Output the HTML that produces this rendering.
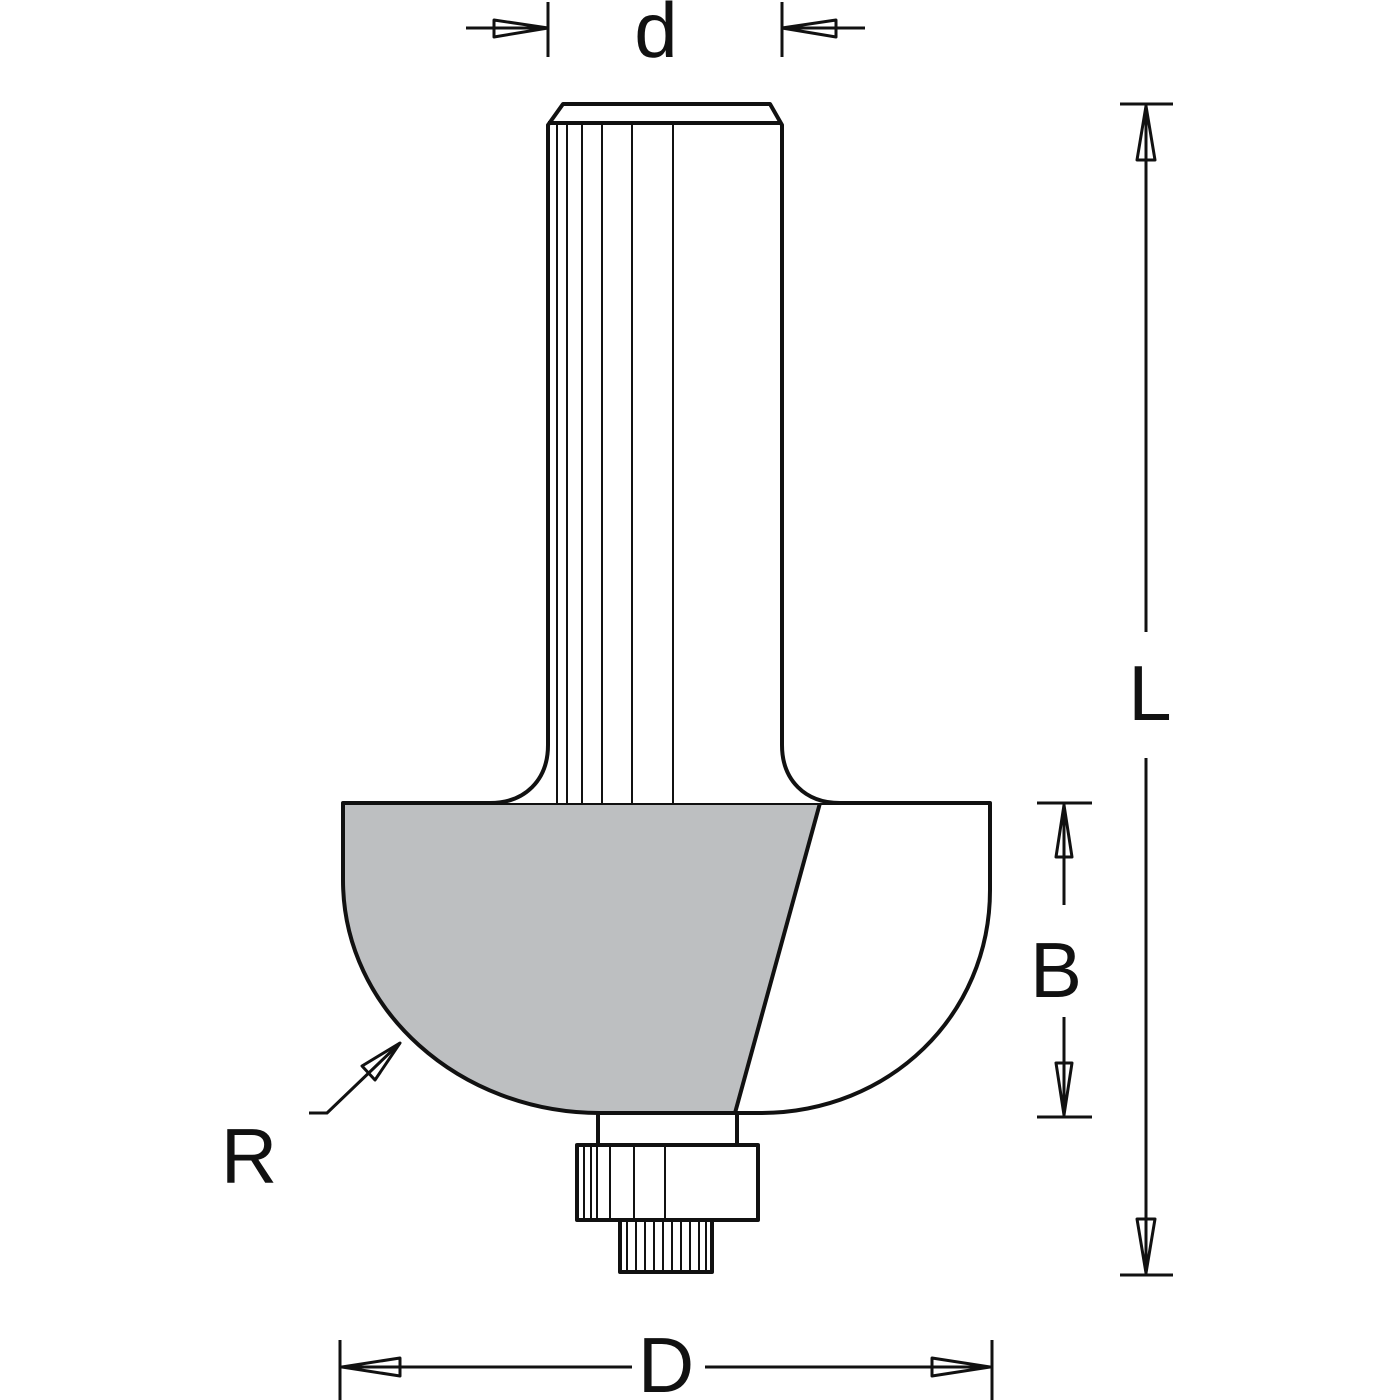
<!DOCTYPE html>
<html><head><meta charset="utf-8"><style>body{margin:0;background:#fff}svg{display:block}</style></head><body>
<svg width="1400" height="1400" viewBox="0 0 1400 1400" xmlns="http://www.w3.org/2000/svg" font-family="Liberation Sans, sans-serif">
<g fill="none" stroke="#111" stroke-linejoin="round">
<!-- body gray -->
<path d="M343 803 L820 803 L735 1113 L600 1113 C460 1113 343 1010 343 880 Z" fill="#bdbfc1" stroke="none"/>
<!-- body outline -->
<path d="M343 803 L990 803 L990 890 C990 1015 890 1113 760 1113 L600 1113 C460 1113 343 1010 343 880 Z" stroke-width="4"/>
<line x1="820" y1="803" x2="735" y2="1113" stroke-width="4"/>
<!-- shank -->
<path d="M490 803 C525 803 548 780 548 745 L548 125 L563 104 L770 104 L782 125 L782 745 C782 780 805 803 840 803" stroke-width="4" fill="#fff"/>
<line x1="548" y1="123" x2="782" y2="123" stroke-width="4"/>
<g stroke-width="2">
<line x1="557" y1="123" x2="557" y2="803"/><line x1="567" y1="123" x2="567" y2="803"/>
<line x1="582" y1="123" x2="582" y2="803"/><line x1="602" y1="123" x2="602" y2="803"/>
<line x1="632" y1="123" x2="632" y2="803"/><line x1="673" y1="123" x2="673" y2="803"/>
</g>
<!-- neck -->
<path d="M598 1113 L598 1145 M737 1113 L737 1145" stroke-width="4"/>
<rect x="577" y="1145" width="181" height="75" stroke-width="4" fill="#fff"/>
<g stroke-width="2">
<line x1="584" y1="1145" x2="584" y2="1220"/><line x1="591" y1="1145" x2="591" y2="1220"/>
<line x1="597" y1="1145" x2="597" y2="1220"/><line x1="610" y1="1145" x2="610" y2="1220"/>
<line x1="634" y1="1145" x2="634" y2="1220"/><line x1="665" y1="1145" x2="665" y2="1220"/>
</g>
<rect x="620" y="1220" width="92" height="52" stroke-width="4" fill="#fff"/>
<g stroke-width="2">
<line x1="627" y1="1220" x2="627" y2="1272"/><line x1="636" y1="1220" x2="636" y2="1272"/>
<line x1="645" y1="1220" x2="645" y2="1272"/><line x1="654" y1="1220" x2="654" y2="1272"/>
<line x1="663" y1="1220" x2="663" y2="1272"/><line x1="672" y1="1220" x2="672" y2="1272"/>
<line x1="681" y1="1220" x2="681" y2="1272"/><line x1="690" y1="1220" x2="690" y2="1272"/>
<line x1="699" y1="1220" x2="699" y2="1272"/><line x1="706" y1="1220" x2="706" y2="1272"/>
</g>
<!-- d dimension -->
<g stroke-width="3">
<line x1="548" y1="2" x2="548" y2="57"/><line x1="782" y1="2" x2="782" y2="57"/>
<line x1="466" y1="28" x2="548" y2="28"/><line x1="782" y1="28" x2="865" y2="28"/>
<path d="M548 28 L494 20 L494 37 Z"/><path d="M782 28 L836 20 L836 37 Z"/>
<!-- L dimension -->
<line x1="1120" y1="104" x2="1173" y2="104"/><line x1="1120" y1="1275" x2="1173" y2="1275"/>
<line x1="1146" y1="104" x2="1146" y2="632"/><line x1="1146" y1="758" x2="1146" y2="1275"/>
<path d="M1146 106 L1137 160 L1155 160 Z"/><path d="M1146 1273 L1137 1219 L1155 1219 Z"/>
<!-- B dimension -->
<line x1="1037" y1="803" x2="1092" y2="803"/><line x1="1037" y1="1117" x2="1092" y2="1117"/>
<line x1="1064" y1="803" x2="1064" y2="905"/><line x1="1064" y1="1017" x2="1064" y2="1117"/>
<path d="M1064 805 L1056 857 L1072 857 Z"/><path d="M1064 1115 L1056 1063 L1072 1063 Z"/>
<!-- D dimension -->
<line x1="340" y1="1340" x2="340" y2="1400"/><line x1="992" y1="1340" x2="992" y2="1400"/>
<line x1="340" y1="1367" x2="632" y2="1367"/><line x1="705" y1="1367" x2="992" y2="1367"/>
<path d="M342 1367 L400 1358 L400 1376 Z"/><path d="M990 1367 L932 1358 L932 1376 Z"/>
<!-- R leader -->
<path d="M309 1113 L327 1113 L400 1043"/>
<path d="M400 1043 L362 1066 L375 1080 Z"/>
</g>
</g>
<g fill="#111" font-size="78" text-anchor="middle">
<text x="656" y="57">d</text>
<text x="1150" y="720">L</text>
<text x="1056" y="997">B</text>
<text x="666" y="1392">D</text>
<text x="249" y="1183">R</text>
</g>
</svg>
</body></html>
